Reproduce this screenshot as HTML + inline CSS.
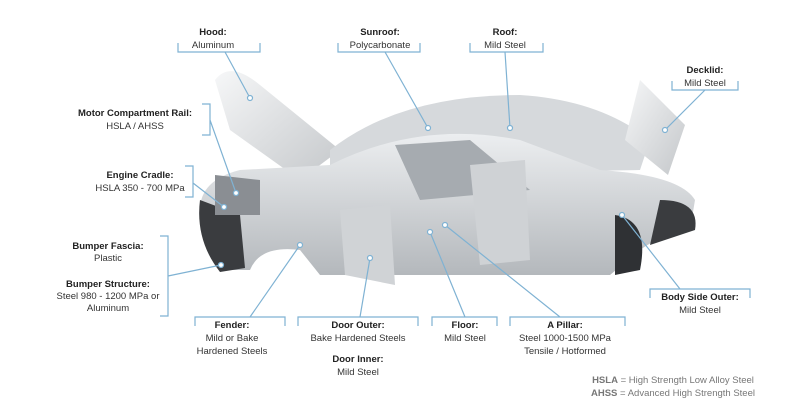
<!DOCTYPE html>
<html><head><meta charset="utf-8"><style>
html,body{margin:0;padding:0;background:#fff;}
svg{display:block;}
text{font-family:"Liberation Sans",sans-serif;font-size:9.5px;fill:#333;text-anchor:middle;}
.b{font-weight:bold;fill:#222;}
.l{stroke:#7fb2d3;stroke-width:1.2;fill:none;}
.d{fill:#fff;stroke:#7fb2d3;stroke-width:1.2;}
</style></head><body>
<svg width="800" height="408" viewBox="0 0 800 408">
<defs>
<linearGradient id="g" x1="0" y1="0" x2="0" y2="1"><stop offset="0" stop-color="#eceef0"/><stop offset="1" stop-color="#b4b8bc"/></linearGradient>
<linearGradient id="h" x1="0" y1="0" x2="1" y2="1"><stop offset="0" stop-color="#f6f7f8"/><stop offset="1" stop-color="#c4c7ca"/></linearGradient>
</defs>
<path d="M215,80 Q230,60 260,85 L340,150 L300,180 L230,130 Z" fill="url(#h)"/>
<path d="M330,150 Q400,95 520,95 Q600,100 650,140 L640,170 L330,175 Z" fill="#d6d9dc"/>
<path d="M625,140 L640,80 L685,125 L668,175 Z" fill="url(#h)"/>
<path d="M200,210 Q200,180 240,170 L330,165 Q420,120 520,140 L600,170 Q680,175 695,200 L690,230 Q660,235 640,250 L610,275 L320,275 L300,250 Q260,245 250,270 L220,270 Q200,250 200,210 Z" fill="url(#g)"/>
<path d="M200,200 Q195,240 220,272 L245,268 L240,215 Z" fill="#3a3c3f"/>
<path d="M660,200 Q700,200 695,230 L650,245 Z" fill="#3a3c3f"/>
<path d="M615,215 Q650,220 640,270 L615,275 Z" fill="#2f3134"/>
<path d="M395,145 L470,140 L530,190 L420,200 Z" fill="#a6abb0"/>
<path d="M340,210 L390,205 L395,285 L345,275 Z" fill="#d0d3d6"/>
<path d="M470,165 L525,160 L530,260 L480,265 Z" fill="#cfd2d5"/>
<path d="M215,175 L260,180 L260,215 L215,215 Z" fill="#8a8e93"/>
<text class="b" x="213" y="35">Hood:</text><text x="213" y="48">Aluminum</text>
<path class="l" d="M178,43 V52 H260 V43 M225,52 L250,98"/><circle class="d" cx="250" cy="98" r="2.5"/>
<text class="b" x="380" y="35">Sunroof:</text><text x="380" y="48">Polycarbonate</text>
<path class="l" d="M338,43 V52 H420 V43 M385,52 L428,128"/><circle class="d" cx="428" cy="128" r="2.5"/>
<text class="b" x="505" y="35">Roof:</text><text x="505" y="48">Mild Steel</text>
<path class="l" d="M470,43 V52 H543 V43 M505,52 L510,128"/><circle class="d" cx="510" cy="128" r="2.5"/>
<text class="b" x="705" y="73">Decklid:</text><text x="705" y="86">Mild Steel</text>
<path class="l" d="M672,81 V90 H738 V81 M705,90 L665,130"/><circle class="d" cx="665" cy="130" r="2.5"/>
<text class="b" x="135" y="116">Motor Compartment Rail:</text><text x="135" y="129">HSLA / AHSS</text>
<path class="l" d="M202,104 H210 V135 H202 M210,120 L236,193"/><circle class="d" cx="236" cy="193" r="2.5"/>
<text class="b" x="140" y="178">Engine Cradle:</text><text x="140" y="191">HSLA 350 - 700 MPa</text>
<path class="l" d="M185,166 H193 V197 H185 M193,183 L224,207"/><circle class="d" cx="224" cy="207" r="2.5"/>
<text class="b" x="108" y="249">Bumper Fascia:</text><text x="108" y="261">Plastic</text>
<text class="b" x="108" y="287">Bumper Structure:</text><text x="108" y="299">Steel 980 - 1200 MPa or</text><text x="108" y="311">Aluminum</text>
<path class="l" d="M160,236 H168 V316 H160 M168,276 L221,265"/><circle class="d" cx="221" cy="265" r="2.5"/>
<text class="b" x="232" y="328">Fender:</text><text x="232" y="341">Mild or Bake</text><text x="232" y="354">Hardened Steels</text>
<path class="l" d="M195,326 V317 H285 V326 M250,317 L300,245"/><circle class="d" cx="300" cy="245" r="2.5"/>
<text class="b" x="358" y="328">Door Outer:</text><text x="358" y="341">Bake Hardened Steels</text>
<text class="b" x="358" y="362">Door Inner:</text><text x="358" y="375">Mild Steel</text>
<path class="l" d="M298,326 V317 H418 V326 M360,317 L370,258"/><circle class="d" cx="370" cy="258" r="2.5"/>
<text class="b" x="465" y="328">Floor:</text><text x="465" y="341">Mild Steel</text>
<path class="l" d="M432,326 V317 H497 V326 M465,317 L430,232"/><circle class="d" cx="430" cy="232" r="2.5"/>
<text class="b" x="565" y="328">A Pillar:</text><text x="565" y="341">Steel 1000-1500 MPa</text><text x="565" y="354">Tensile / Hotformed</text>
<path class="l" d="M510,326 V317 H625 V326 M560,317 L445,225"/><circle class="d" cx="445" cy="225" r="2.5"/>
<text class="b" x="700" y="300">Body Side Outer:</text><text x="700" y="313">Mild Steel</text>
<path class="l" d="M650,298 V289 H750 V298 M680,289 L622,215"/><circle class="d" cx="622" cy="215" r="2.5"/>
<text x="673" y="383" style="fill:#777"><tspan style="font-weight:bold">HSLA</tspan> = High Strength Low Alloy Steel</text>
<text x="673" y="396" style="fill:#777"><tspan style="font-weight:bold">AHSS</tspan> = Advanced High Strength Steel</text>
</svg>
</body></html>
